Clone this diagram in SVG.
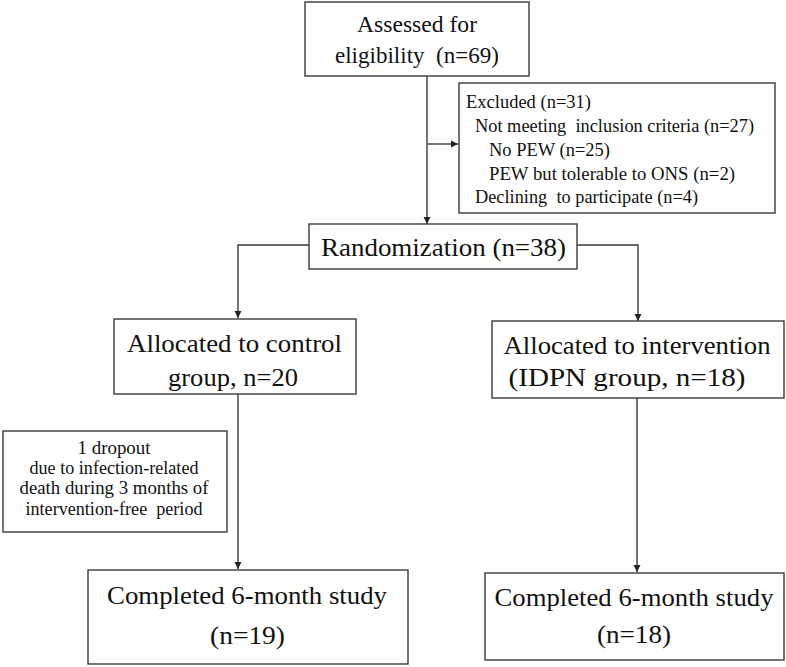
<svg xmlns="http://www.w3.org/2000/svg" width="786" height="667" viewBox="0 0 786 667">
<style>
.box{fill:#fff;stroke:#3a3a3a;stroke-width:1.4}
.ln{fill:none;stroke:#3a3a3a;stroke-width:1.4}
.big{font-family:'Liberation Serif',serif;font-size:26px;text-anchor:middle;fill:#111}
.mid{font-family:'Liberation Serif',serif;font-size:24px;text-anchor:middle;fill:#111}
.sm{font-family:'Liberation Serif',serif;font-size:18px;fill:#111}
.smc{font-family:'Liberation Serif',serif;font-size:18px;text-anchor:middle;fill:#111}
</style>
<defs>
<marker id="ah" viewBox="0 0 10 10" refX="10" refY="5" markerWidth="7" markerHeight="8" markerUnits="userSpaceOnUse" orient="auto">
<path d="M0,0 L10,5 L0,10 z" fill="#222"/>
</marker>
</defs>
<rect width="786" height="667" fill="#fff"/>
<g id="connectors">
<line class="ln" x1="427" y1="76" x2="427" y2="224" marker-end="url(#ah)"/>
<line class="ln" x1="428" y1="144" x2="458" y2="144" marker-end="url(#ah)"/>
<path class="ln" d="M309,245 H238 V318" marker-end="url(#ah)"/>
<path class="ln" d="M577,245 H638 V321" marker-end="url(#ah)"/>
<line class="ln" x1="238" y1="394" x2="238" y2="569" marker-end="url(#ah)"/>
<line class="ln" x1="637" y1="398" x2="637" y2="572" marker-end="url(#ah)"/>
</g>
<g id="assessed">
<rect class="box" x="305" y="2" width="224" height="74"/>
<text class="mid" x="417" y="32" textLength="120" lengthAdjust="spacingAndGlyphs">Assessed for</text>
<text class="mid" x="417" y="63" textLength="164" lengthAdjust="spacingAndGlyphs">eligibility&#160; (n=69)</text>
</g>
<g id="excluded">
<rect class="box" x="459" y="83" width="316" height="130"/>
<text class="sm" x="466" y="108" textLength="125" lengthAdjust="spacingAndGlyphs">Excluded (n=31)</text>
<text class="sm" x="475" y="132" textLength="279" lengthAdjust="spacingAndGlyphs">Not meeting&#160; inclusion criteria (n=27)</text>
<text class="sm" x="489" y="156" textLength="121" lengthAdjust="spacingAndGlyphs">No PEW (n=25)</text>
<text class="sm" x="489" y="180" textLength="246" lengthAdjust="spacingAndGlyphs">PEW but tolerable to ONS (n=2)</text>
<text class="sm" x="475" y="203" textLength="223" lengthAdjust="spacingAndGlyphs">Declining&#160; to participate (n=4)</text>
</g>
<g id="randomization">
<rect class="box" x="309" y="224" width="268" height="45"/>
<text class="big" x="443.5" y="256" textLength="245" lengthAdjust="spacingAndGlyphs">Randomization (n=38)</text>
</g>
<g id="control">
<rect class="box" x="114" y="319" width="242" height="75"/>
<text class="big" x="234.5" y="352" textLength="215" lengthAdjust="spacingAndGlyphs">Allocated to control</text>
<text class="big" x="233" y="386" textLength="130" lengthAdjust="spacingAndGlyphs">group, n=20</text>
</g>
<g id="intervention">
<rect class="box" x="492" y="321" width="292" height="77"/>
<text class="big" x="637" y="354" textLength="267" lengthAdjust="spacingAndGlyphs">Allocated to intervention</text>
<text class="big" x="627" y="386" textLength="237" lengthAdjust="spacingAndGlyphs">(IDPN group, n=18)</text>
</g>
<g id="dropout">
<rect class="box" x="3" y="431" width="224" height="101"/>
<text class="smc" x="114" y="454" textLength="73" lengthAdjust="spacingAndGlyphs">1 dropout</text>
<text class="smc" x="114" y="474" textLength="169" lengthAdjust="spacingAndGlyphs">due to infection-related</text>
<text class="smc" x="114" y="494" textLength="189" lengthAdjust="spacingAndGlyphs">death during 3 months of</text>
<text class="smc" x="114" y="515" textLength="177" lengthAdjust="spacingAndGlyphs">intervention-free&#160; period</text>
</g>
<g id="completed-control">
<rect class="box" x="88" y="570" width="320" height="94"/>
<text class="big" x="247" y="604" textLength="280" lengthAdjust="spacingAndGlyphs">Completed 6-month study</text>
<text class="big" x="247.5" y="644" textLength="75" lengthAdjust="spacingAndGlyphs">(n=19)</text>
</g>
<g id="completed-intervention">
<rect class="box" x="485" y="573" width="299" height="87"/>
<text class="big" x="634" y="606" textLength="279" lengthAdjust="spacingAndGlyphs">Completed 6-month study</text>
<text class="big" x="634" y="643" textLength="74" lengthAdjust="spacingAndGlyphs">(n=18)</text>
</g>
</svg>
